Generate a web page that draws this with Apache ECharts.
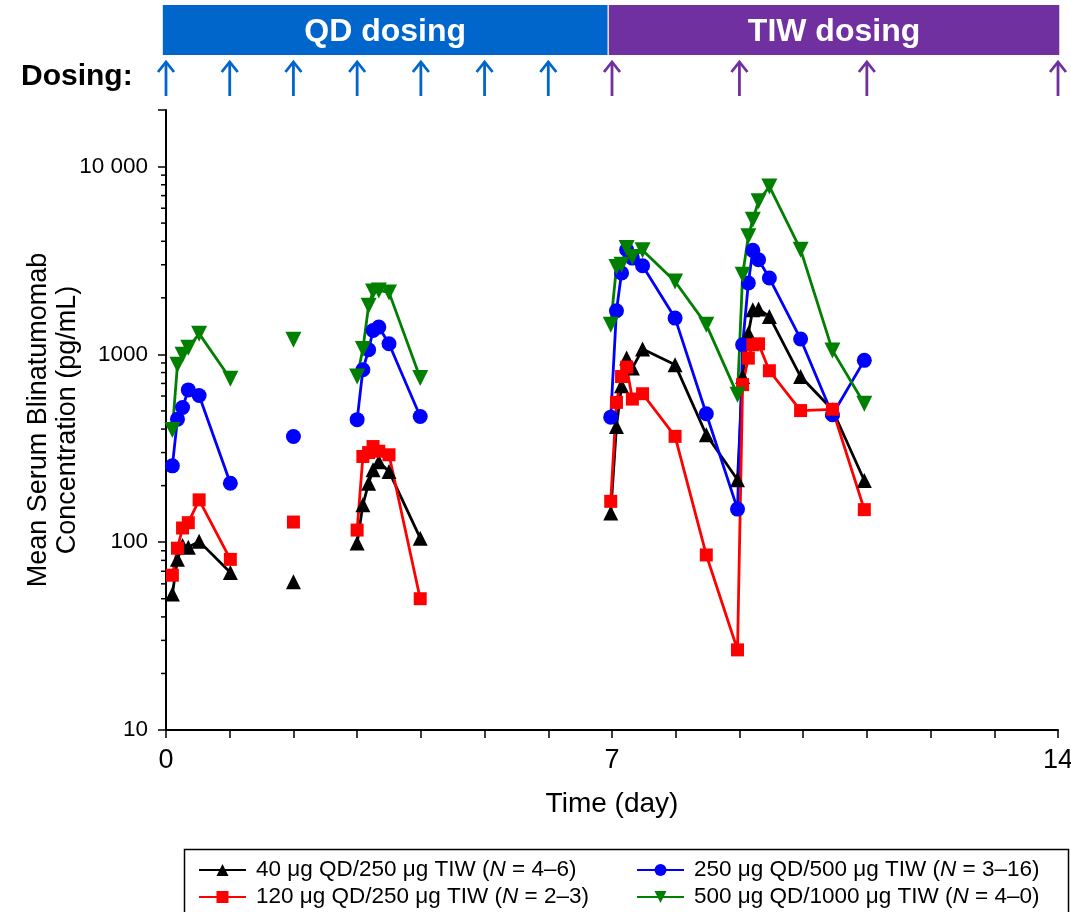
<!DOCTYPE html>
<html><head><meta charset="utf-8">
<script src="https://cdn.jsdelivr.net/npm/echarts@6/dist/echarts.min.js"></script>
<style>html,body{margin:0;padding:0;background:#fff}#c{width:1071px;height:912px}</style>
</head><body><div id="c"></div>
<script>
// ---- sampling times (day), one array per sampling cluster ----
const timesCycle1 = [0.1, 0.18, 0.26, 0.35, 0.52, 1.01];
const timesDay2 = [2.0];
const timesCycle3 = [3.0, 3.09, 3.18, 3.25, 3.34, 3.5, 3.99];
const timesTIW = [6.98, 7.07, 7.15, 7.23, 7.32, 7.48, 7.99, 8.48, 8.97, 9.05, 9.14, 9.21, 9.30, 9.47, 9.96, 10.46, 10.96];

// ---- mean serum concentrations (pg/mL) ----
const conc40_c1 = [53, 81, 96, 94, 101, 69];
const conc40_d2 = [61.6];
const conc40_c3 = [99, 158, 206, 243, 268, 238, 105];
const conc40_tiw = [143, 413, 680, 955, 845, 1067, 881, 373, 215, 762, 1297, 1730, 1742, 1592, 762, 507, 213];

const conc120_c1 = [66.7, 92.9, 119, 127, 168, 81];
const conc120_d2 = [128];
const conc120_c3 = [116, 286, 300, 323, 305, 292, 50];
const conc120_tiw = [165, 555, 762, 855, 578, 617, 366, 85.5, 26.7, 690, 955, 1125, 1138, 818, 502, 510, 149];

const conc250_c1 = [255, 452, 521, 647, 604, 206];
const conc250_d2 = [365];
const conc250_c3 = [449, 828, 1058, 1340, 1397, 1138, 467];
const conc250_tiw = [463, 1706, 2710, 3608, 3255, 2965, 1560, 483, 150, 1125, 2400, 3580, 3192, 2548, 1208, 477, 929];

const conc500_c1 = [396, 881, 995, 1084, 1289, 741];
const conc500_d2 = [1197];
const conc500_c3 = [762, 1067, 1815, 2163, 2190, 2138, 748];
const conc500_tiw = [1439, 2917, 3000, 3683, 3299, 3581, 2444, 1439, 609, 2655, 4248, 5212, 6532, 7830, 3608, 1050, 546];

// ---- legend labels ----
const legendPrefix = ['40 μg QD/250 μg TIW (', '120 μg QD/250 μg TIW (', '250 μg QD/500 μg TIW (', '500 μg QD/1000 μg TIW ('];
const legendSuffix = [' = 4–6)', ' = 2–3)', ' = 3–16)', ' = 4–0)'];

// ---- dosing schedule ----
const phaseLabels = ['QD dosing', 'TIW dosing'];
const phaseStart = [-0.05, 6.95];
const phaseEnd = [6.93, 14.02];
const qdDoseDays = [0, 1, 2, 3, 4, 5, 6];
const tiwDoseDays = [7, 9, 11, 14];

// ---- axis ticks ----
const xTickLabels = [0, 7, 14];
const yMinorTicks = [20, 30, 40, 50, 60, 70, 80, 90, 200, 300, 400, 500, 600, 700, 800, 900, 2000, 3000, 4000, 5000, 6000, 7000, 8000, 9000];

const FONT = '"Liberation Sans", Arial, sans-serif';
const clusterTimes = [timesCycle1, timesDay2, timesCycle3, timesTIW];
const groups = [
  {id: 'd40', color: '#000000', symbol: 'triangle', size: 15, vals: [conc40_c1, conc40_d2, conc40_c3, conc40_tiw]},
  {id: 'd250', color: '#0000FF', symbol: 'circle', size: 15, vals: [conc250_c1, conc250_d2, conc250_c3, conc250_tiw]},
  {id: 'd120', color: '#FF0000', symbol: 'rect', size: 13, vals: [conc120_c1, conc120_d2, conc120_c3, conc120_tiw]},
  {id: 'd500', color: '#007F00', symbol: 'path://M0,0 L10,0 L5,9 Z', size: 16, vals: [conc500_c1, conc500_d2, conc500_c3, conc500_tiw]}
];
const legendIndex = {d40: 0, d120: 1, d250: 2, d500: 3};

const series = [];
groups.forEach(g => {
  clusterTimes.forEach((ts, k) => {
    series.push({
      type: 'line', name: g.id, xAxisIndex: 0, yAxisIndex: 0,
      data: ts.map((t, i) => [t, g.vals[k][i]]),
      symbol: g.symbol, symbolSize: g.size, showAllSymbol: true,
      lineStyle: {color: g.color, width: 2.8},
      itemStyle: {color: g.color},
      emphasis: {disabled: true}, animation: false
    });
  });
});

// minor ticks on the log axis
series.push({
  type: 'custom', xAxisIndex: 0, yAxisIndex: 0, silent: true, clip: false, animation: false,
  data: yMinorTicks.map(v => [0, v]),
  renderItem: (params, api) => {
    const p = api.coord([api.value(0), api.value(1)]);
    return {type: 'line', shape: {x1: p[0] - 5, y1: p[1], x2: p[0], y2: p[1]}, style: {stroke: '#000', lineWidth: 1.5}};
  }
});

// dosing phase bars
const phaseColors = ['#0066CC', '#7030A0'];
series.push({
  type: 'custom', xAxisIndex: 1, yAxisIndex: 1, silent: true, clip: false, animation: false,
  data: phaseLabels.map((l, i) => [phaseStart[i], phaseEnd[i], i]),
  renderItem: (params, api) => {
    const a = api.coord([api.value(0), 0]);
    const b = api.coord([api.value(1), 0]);
    const cs = params.coordSys;
    const i = api.value(2);
    return {type: 'group', children: [
      {type: 'rect', shape: {x: a[0], y: cs.y, width: b[0] - a[0], height: 50}, style: {fill: phaseColors[i]}},
      {type: 'text', style: {x: (a[0] + b[0]) / 2, y: cs.y + 27, text: phaseLabels[i], fill: '#fff',
        font: 'bold 32px ' + FONT, align: 'center', verticalAlign: 'middle'}}
    ]};
  }
});

// dosing arrows
const doseData = qdDoseDays.map(d => [d, 0]).concat(tiwDoseDays.map(d => [d, 1]));
series.push({
  type: 'custom', xAxisIndex: 1, yAxisIndex: 1, silent: true, clip: false, animation: false,
  data: doseData,
  renderItem: (params, api) => {
    const p = api.coord([api.value(0), 0]);
    const cs = params.coordSys;
    const col = phaseColors[api.value(1)];
    const x = p[0], top = cs.y + 57, bot = cs.y + 91;
    return {type: 'group', children: [
      {type: 'line', shape: {x1: x, y1: top + 1, x2: x, y2: bot}, style: {stroke: col, lineWidth: 2.8}},
      {type: 'polyline', shape: {points: [[x - 8, top + 10], [x, top], [x + 8, top + 10]]}, style: {stroke: col, lineWidth: 2.8, fill: null}}
    ]};
  }
});

const legendText = {fontFamily: FONT, fontSize: 22.5, lineHeight: 24, color: '#000', padding: [0, 0, 0, 5],
  rich: {t: {fontSize: 22.5, lineHeight: 24, fontFamily: FONT}, i: {fontSize: 22.5, lineHeight: 24, fontStyle: 'italic', fontFamily: FONT}}};
const legendFmt = name => { const i = legendIndex[name]; return '{t|' + legendPrefix[i] + '}{i|N}{t|' + legendSuffix[i] + '}'; };

const option = {
  backgroundColor: '#fff',
  animation: false,
  grid: [
    {left: 166, right: 13, top: 110, bottom: 182, containLabel: false, outerBoundsMode: 'none'},
    {left: 166, right: 13, top: 5, height: 91, containLabel: false, outerBoundsMode: 'none'}
  ],
  xAxis: [
    {type: 'value', gridIndex: 0, min: 0, max: 14, interval: 1,
      name: 'Time (day)', nameLocation: 'middle', nameGap: 60, nameMoveOverlap: false,
      nameTextStyle: {fontSize: 28, color: '#000', fontFamily: FONT},
      axisLine: {lineStyle: {color: '#000', width: 2}},
      axisTick: {show: true, length: 8, lineStyle: {color: '#000', width: 1.5}},
      axisLabel: {margin: 17, fontSize: 27, color: '#000', fontFamily: FONT,
        formatter: v => xTickLabels.indexOf(v) >= 0 ? String(v) : ''},
      splitLine: {show: false}},
    {type: 'value', gridIndex: 1, min: 0, max: 14, show: false}
  ],
  yAxis: [
    {type: 'log', logBase: 10, gridIndex: 0, min: 10, max: 20000,
      name: 'Mean Serum Blinatumomab\nConcentration (pg/mL)', nameLocation: 'middle', nameGap: 84, nameRotate: 90, nameMoveOverlap: false,
      nameTextStyle: {fontSize: 27, lineHeight: 29, color: '#000', fontFamily: FONT},
      axisLine: {lineStyle: {color: '#000', width: 2}},
      axisTick: {show: true, length: 8, lineStyle: {color: '#000', width: 1.5}},
      axisLabel: {margin: 18, fontSize: 22.5, color: '#000', fontFamily: FONT,
        formatter: v => { const l = Math.log10(v); if (Math.abs(l - Math.round(l)) > 1e-6) return ''; return v === 10000 ? '10 000' : String(Math.round(v)); }},
      splitLine: {show: false}, minorTick: {show: false}},
    {type: 'value', gridIndex: 1, min: 0, max: 1, show: false}
  ],
  legend: [
    {data: ['d40', 'd120'], orient: 'vertical', left: 198, top: 858, height: 60, padding: 0, itemWidth: 47, itemHeight: 15, itemGap: 3,
      formatter: legendFmt, textStyle: legendText, selectedMode: false},
    {data: ['d250', 'd500'], orient: 'vertical', left: 636, top: 858, height: 60, padding: 0, itemWidth: 47, itemHeight: 15, itemGap: 3,
      formatter: legendFmt, textStyle: legendText, selectedMode: false}
  ],
  graphic: [
    {type: 'rect', left: 182, top: 847, shape: {width: 884, height: 80}, style: {fill: null, stroke: '#000', lineWidth: 1.5}, silent: true},
    {type: 'text', left: 21, top: 62, style: {text: 'Dosing:', font: 'bold 30px ' + FONT, fill: '#000'}}
  ],
  series: series
};
const chart = echarts.init(document.getElementById('c'), null, {renderer: 'canvas'});
chart.setOption(option);
</script></body></html>
